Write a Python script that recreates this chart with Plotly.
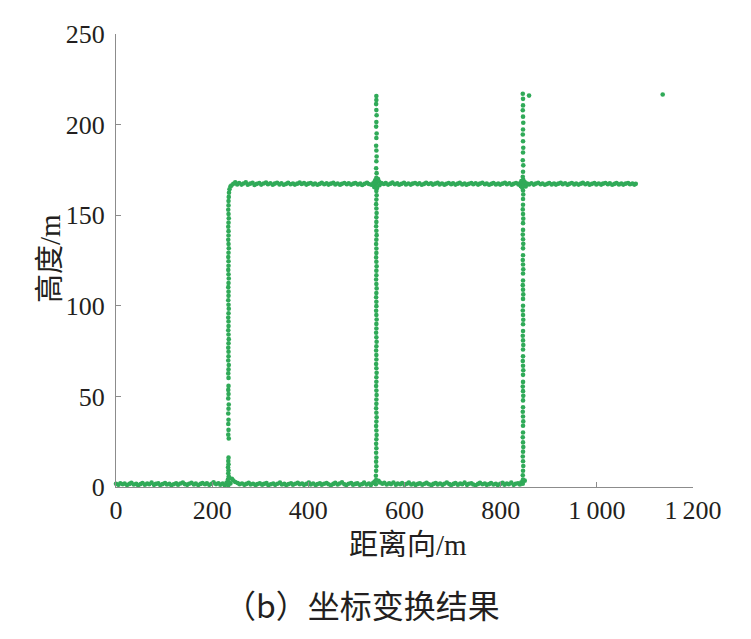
import plotly.graph_objects as go

# ---- data ----
ground = [(0,1.8),(5,1.2),(9,2.1),(14,1.5),(18,1.9),(23,1.1),(28,1.7),(32,2.3),(37,1.4),(42,1.8),(46,1.0),(51,1.6),(55,2.2),(60,1.3),(65,1.9),(69,1.5),(74,2.4),(79,1.2),(83,1.7),(88,2.0),(92,1.1),(97,1.6),(102,2.2),(106,1.4),(111,1.8),(115,1.0),(120,1.5),(125,2.1),(129,1.3),(134,1.9),(139,2.5),(143,1.6),(148,1.2),(152,1.8),(157,2.3),(162,1.4),(166,1.9),(171,1.1),(176,1.7),(180,2.2),(185,1.5),(189,2.0),(194,1.2),(199,1.8),(203,2.6),(208,1.6),(213,2.1),(217,1.3),(222,1.9),(226,1.0),(230,2.4),
          (238,2.0),(241,4.5),(244,3.6),(248,2.8),(253,2.2),(257,1.5),(262,1.9),(267,1.2),(271,1.7),(276,2.3),(280,1.4),(285,1.8),(290,1.1),(294,1.6),(299,2.0),(304,1.3),(308,1.7),(313,2.2),(317,1.0),(322,1.5),(327,1.9),(331,1.2),(336,1.8),(341,2.4),(345,1.4),(350,1.7),(354,1.1),(359,1.6),(364,2.1),(368,1.3),(373,1.8),(378,2.3),(382,1.5),(387,1.9),(391,1.2),(396,1.7),(401,2.5),(405,1.4),(410,1.9),(415,1.1),(419,1.6),(424,2.0),(428,1.3),(433,1.8),(438,2.2),(442,1.5),(447,1.0),(452,1.7),(456,2.3),(461,1.4),(465,1.9),(470,2.6),(475,1.5),(479,1.1),(484,1.8),(489,2.2),(493,1.3),(498,1.7),(502,2.0),(507,1.2),(512,1.6),(516,2.4),(521,1.4),(526,1.9),(530,1.1),(535,2.3),(538,3.0),
          (546,3.4),(549,2.5),(554,1.8),(558,2.3),(563,1.4),(568,2.0),(572,1.6),(577,2.5),(582,1.3),(586,1.9),(591,1.5),(595,2.2),(600,1.2),(605,1.8),(609,2.4),(614,1.4),(619,1.9),(623,1.1),(628,1.7),(632,2.1),(637,1.3),(642,1.8),(646,2.3),(651,1.5),(656,1.0),(660,1.7),(665,2.2),(669,1.4),(674,1.9),(679,1.2),(683,1.8),(688,2.5),(693,1.6),(697,1.1),(702,1.7),(706,2.2),(711,1.3),(716,1.9),(720,1.5),(725,2.4),(730,1.2),(734,1.8),(739,2.1),(743,1.4),(748,1.0),(753,1.7),(757,2.3),(762,1.5),(767,1.9),(771,1.2),(776,1.6),(780,2.2),(785,1.4),(790,1.8),(794,1.1),(799,1.7),(804,2.3),(808,1.3),(813,1.9),(817,1.5),(822,2.4),(827,1.2),(831,1.8),(836,2.1),(840,1.4),(843,2.6),(850,3.5)]

wall_1 = [(233.5,0.8),(234,2.6),(233,4.3),(234.5,5.9),(233.5,7.6),(234,9.2),(233,10.9),(234,12.5),(233.5,14.3),(234,16.2),(234.5,26.8),(233.5,28.9),(234,31.5),(233.5,34.8),(234,37.1),(233.5,40.6),(234,43.2),(234.5,45.5),(233.5,48.9),(234,51.3),(233.5,53.6),(234,55.8),(234,60.2),(233.5,62.7),(234,64.9),(234.5,67.3),(233.5,69.8),(234,72.1),(234,74.6),(233.5,76.9),(234,79.3),(234.5,81.6),(234,84.2),(233.5,86.5),(234,88.8),(234,91.3),(233.5,93.5),(234,95.9),(234.5,98.4),(234,100.6),(233.5,103.1),(234,105.5),(234,107.8),(233.5,110.3),(234,112.6),(234.5,115.1),(234,117.4),(233.5,119.8),(234,122.1),(234,124.6),(233.5,126.9),(234,129.3),(234.5,131.7),(234,134.1),(233.5,136.4),(234,138.8),(234,141.2),(233.5,143.6),(234,145.9),(234.5,148.3),(234,150.7),(233.5,153.0),(234,155.4),(234,157.8),(234.5,160.1),(235,162.4),(236,164.3),(238,165.8)]

roof = [(240,166.4),(244,167.3),(248,168.2),(252,167.0),(256,167.8),(261,166.9),(265,167.5),(270,168.1),(274,166.8),(279,167.4),(284,167.9),(288,166.7),(293,167.3),(298,167.8),(302,166.9),(307,167.5),(312,168.0),(316,167.1),(321,167.6),(326,166.8),(330,167.4),(335,167.9),(340,167.0),(344,167.6),(349,166.8),(354,167.3),(358,167.9),(363,167.1),(368,167.5),(372,166.9),(377,167.4),(382,168.0),(386,167.2),(391,167.7),(396,166.9),(400,167.4),(405,167.8),(410,167.0),(414,167.5),(419,166.8),(424,167.3),(428,167.9),(433,167.1),(438,167.6),(442,166.9),(447,167.4),(452,167.9),(456,167.0),(461,167.5),(466,166.8),(470,167.3),(475,167.8),(480,167.1),(484,167.6),(489,166.9),(494,167.4),(498,167.8),(503,167.0),(508,167.5),(512,166.7),(517,167.3),(522,167.9),(526,167.2),(531,166.8),(535,167.6),(537,165.5),(538,168.4),(539,169.2),(540,167.0),(542,168.0),(543,165.0),(544,168.8),(545,170.0),(547,168.6),(548,166.5),(552,167.8),
        (557,167.2),(561,167.7),(566,166.9),(571,167.4),(575,168.0),(580,167.1),(585,167.6),(589,166.8),(594,167.3),(599,167.9),(603,167.0),(608,167.5),(613,166.9),(617,167.4),(622,167.8),(627,167.1),(631,167.6),(636,166.8),(641,167.3),(645,167.9),(650,167.2),(655,167.6),(659,166.9),(664,167.4),(669,167.9),(673,167.0),(678,167.5),(683,166.8),(687,167.3),(692,167.8),(697,167.1),(701,167.6),(706,166.9),(711,167.4),(715,167.9),(720,167.0),(725,167.5),(729,166.8),(734,167.3),(739,167.8),(743,167.1),(748,167.6),(753,166.9),(757,167.4),(762,167.9),(767,167.1),(771,167.5),(776,166.8),(781,167.3),(785,167.8),(790,167.0),(795,167.5),(799,166.9),(804,167.4),(809,167.9),(813,167.1),(818,167.6),(823,166.8),(827,167.3),(832,167.8),(837,167.0),(840,167.6),(842,166.0),(843,168.9),(845,165.2),(846,167.4),(847,169.6),(848,166.3),(850,168.3),(852,165.8),(855,167.4),
        (859,167.0),(864,167.6),(869,166.9),(873,167.4),(878,167.9),(883,167.1),(887,167.5),(892,166.8),(897,167.3),(901,167.8),(906,167.0),(911,167.5),(915,166.9),(920,167.4),(925,167.9),(929,167.1),(934,167.6),(939,166.8),(943,167.3),(948,167.8),(953,167.0),(957,167.5),(962,166.9),(967,167.4),(971,167.9),(976,167.1),(981,167.6),(985,166.8),(990,167.3),(995,167.8),(999,167.0),(1004,167.5),(1009,166.9),(1013,167.4),(1018,167.8),(1023,167.1),(1027,167.6),(1032,166.8),(1037,167.3),(1041,167.8),(1046,167.0),(1051,167.5),(1055,166.9),(1060,167.4),(1065,167.8),(1069,167.1),(1074,167.5),(1078,166.9),(1081,167.3)]

wall_2 = [(540.5,1.5),(541,3.8),(540.5,6.2),(541,8.9),(541.5,11.4),(541,14.0),(541.5,16.3),(541,18.9),(541.5,21.4),(541,23.8),(541.5,26.3),(542,28.7),(541.5,31.2),(541,33.6),(541.5,36.1),(542,38.5),(541.5,41.0),(541,43.4),(541.5,45.9),(541.5,48.3),(542,50.8),(541.5,53.2),(541,55.7),(541.5,58.1),(541.5,60.6),(542,63.0),(541.5,65.5),(541,67.9),(541.5,70.4),(541.5,72.8),(541,75.3),(541.5,77.7),(542,80.2),(541.5,82.6),(541,85.1),(541.5,87.5),(541.5,90.0),(542,92.4),(541.5,94.9),(541,97.3),(541.5,99.8),(541.5,102.2),(541,104.7),(541.5,107.1),(542,109.6),(541.5,112.0),(541,114.5),(541.5,116.9),(541.5,119.4),(542,121.8),(541.5,124.3),(541,126.7),(541.5,129.2),(541.5,131.6),(541,134.1),(541.5,136.5),(542,139.0),(541.5,141.4),(541,143.9),(541.5,146.3),(541.5,148.8),(542,151.2),(541.5,153.7),(541,156.1),(541.5,158.6),(542,161.0),(541.5,163.4),(541,165.2),
          (541.5,170.6),(542,173.2),(541,175.9),(541.5,179.8),(542,182.4),(541.5,185.7),(541,188.3),(541.5,192.6),(542,195.1),(541,198.9),(541.5,201.4),(542,205.2),(541.5,208.0),(541,211.3),(541.5,213.6),(541.5,215.8)]

wall_3 = [(846,1.8),(846.5,4.1),(846,6.5),(846.5,9.0),(847,11.6),(846.5,14.2),(846,16.8),(846.5,19.5),(847,22.1),(846.5,24.6),(846,27.4),(846.5,30.1),(846.5,33.8),(847,36.2),(846.5,38.9),(846,41.5),(846.5,44.0),(846.5,47.8),(847,50.3),(846.5,52.9),(846,55.4),(846.5,58.0),(846.5,61.9),(847,64.4),(846.5,66.9),(846,69.5),(846.5,72.1),(846.5,75.9),(847,78.4),(846.5,80.9),(846,83.5),(846.5,86.1),(846.5,89.8),(847,92.3),(846.5,94.9),(846,97.4),(846.5,100.0),(846.5,103.8),(847,106.3),(846.5,108.9),(846,111.4),(846.5,114.0),(846.5,117.8),(847,120.2),(846.5,122.8),(846,125.3),(846.5,127.9),(846.5,131.7),(847,134.2),(846.5,136.7),(846,139.3),(846.5,141.9),(846.5,145.6),(847,148.1),(846.5,150.7),(846,153.2),(846.5,155.8),(846.5,158.9),(847,161.4),(846.5,163.6),
          (846,171.2),(846.5,174.0),(847,177.5),(846,180.3),(846.5,184.6),(847,187.2),(846.5,190.8),(846,194.5),(846.5,197.3),(847,201.0),(846.5,204.4),(846,207.9),(846.5,210.6),(846.5,214.2),(846,217.0),(859,216.0)]

isolated = [(1137,216.6)]

x_ticks = [0, 200, 400, 600, 800, 1000, 1200]
x_tick_labels = ["0", "200", "400", "600", "800", "1\u2009000", "1\u2009200"]
y_ticks = [0, 50, 100, 150, 200, 250]
y_tick_labels = ["0", "50", "100", "150", "200", "250"]

GREEN = "#30AA58"
segments = [ground, wall_1, roof, wall_2, wall_3, isolated]

fig = go.Figure()
for seg in segments:
    fig.add_trace(go.Scatter(
        x=[p[0] for p in seg], y=[p[1] for p in seg], mode="markers",
        marker=dict(color=GREEN, size=4.6, line=dict(width=0)),
        showlegend=False, hoverinfo="skip", cliponaxis=False))

NUM_FONT = dict(family="Liberation Serif, Times New Roman, serif", size=26, color="#231F20")
CJK_FAMILY = "Liberation Serif, Noto Sans CJK SC, serif"

axis_common = dict(showgrid=False, zeroline=False, showline=True, linecolor="#8C8C8C",
                   linewidth=1.3, ticks="inside", ticklen=5, tickwidth=1.2, tickcolor="#8C8C8C",
                   tickfont=NUM_FONT, mirror=False)

fig.update_xaxes(range=[0, 1200], tickvals=x_ticks, ticktext=x_tick_labels, **axis_common)
fig.update_yaxes(range=[0, 250], tickvals=y_ticks, ticktext=y_tick_labels,
                 ticklabelstandoff=5, **axis_common)

# the page body adds an 8 px offset; margins compensate so the plot box lands at x 116-693, y 32-487
fig.update_layout(
    width=751, height=639,
    margin=dict(l=108, r=66, t=24, b=160),
    plot_bgcolor="white", paper_bgcolor="white",
    annotations=[
        dict(text="距离向/m", x=(408 - 116) / 577, y=(487 - 545) / 455, xref="paper", yref="paper",
             showarrow=False, font=dict(family=CJK_FAMILY, size=29, color="#231F20"),
             xanchor="center", yanchor="middle"),
        dict(text="高度/m", x=(50 - 116) / 577, y=(487 - 258) / 455, xref="paper", yref="paper",
             textangle=-90, showarrow=False, font=dict(family=CJK_FAMILY, size=29, color="#231F20"),
             xanchor="center", yanchor="middle"),
        dict(text="（b）坐标变换结果", x=(362 - 116) / 577, y=(487 - 605) / 455,
             xref="paper", yref="paper", showarrow=False,
             font=dict(family="Noto Sans CJK SC, serif", size=32, color="#231F20"),
             xanchor="center", yanchor="middle"),
    ],
)

fig.write_html("out.html")
